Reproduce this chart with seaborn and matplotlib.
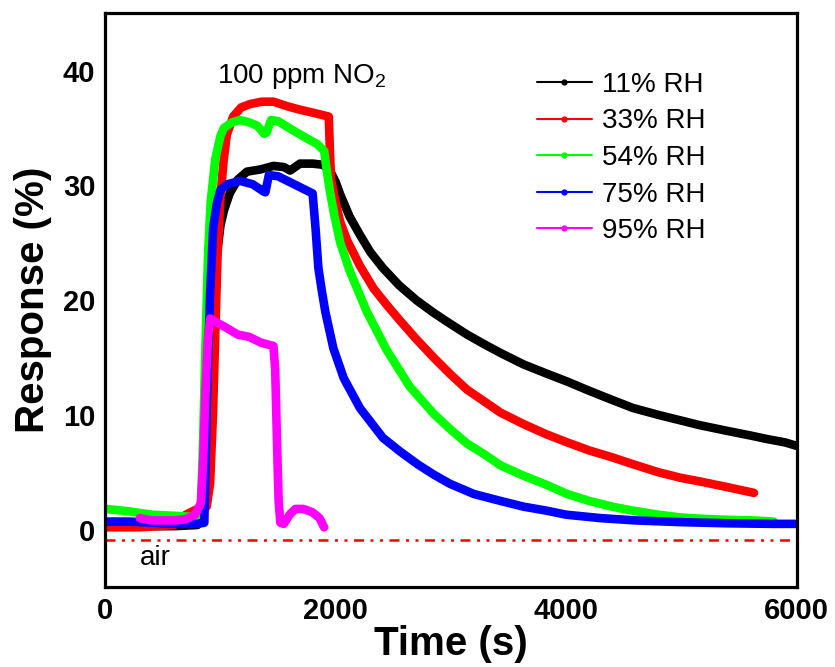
import numpy as np
import pandas as pd
import matplotlib
matplotlib.use("Agg")
import matplotlib.pyplot as plt
import seaborn as sns
from matplotlib.lines import Line2D
from matplotlib.ticker import MultipleLocator

# values
labels = ["11% RH", "33% RH", "54% RH", "75% RH", "95% RH"]
colors = ["#000000", "#ff0000", "#00ff00", "#0000ff", "#ff00ff"]

t_11 = [0, 200, 400, 600, 800, 840, 860, 880, 910, 940, 970, 1000, 1030, 1080, 1150,
        1230, 1350, 1460, 1550, 1605, 1690, 1800, 1890, 1950, 2000, 2040, 2120, 2210,
        2300, 2410, 2550, 2700, 2850, 2970, 3140, 3300, 3430, 3630, 3830, 4010, 4200,
        4400, 4580, 4800, 5000, 5160, 5400, 5600, 5740, 5900, 6000]
r_11 = [0.3, 0.3, 0.3, 0.3, 0.4, 2.0, 5.5, 9.5, 17.5, 21.5, 24.0, 26.5, 27.8, 29.3, 30.5,
        31.2, 31.4, 31.7, 31.6, 31.3, 31.9, 31.9, 31.8, 31.3, 30.3, 29.2, 27.3, 25.7,
        24.2, 22.8, 21.3, 20.0, 18.9, 18.1, 17.0, 16.1, 15.4, 14.4, 13.6, 12.9, 12.1,
        11.3, 10.6, 10.0, 9.5, 9.1, 8.6, 8.2, 7.9, 7.6, 7.3]

t_33 = [0, 300, 600, 700, 800, 880, 910, 935, 955, 975, 1000, 1026, 1055, 1110, 1180,
        1260, 1360, 1460, 1580, 1690, 1820, 1940, 1950, 1960, 2000, 2040, 2100, 2210,
        2330, 2450, 2560, 2700, 2850, 3000, 3140, 3300, 3430, 3630, 3830, 4010, 4200,
        4400, 4580, 4800, 5000, 5160, 5400, 5630]
r_33 = [0.2, 0.2, 0.4, 1.3, 1.8, 2.0, 4.0, 10.0, 17.0, 24.0, 29.0, 32.0, 34.4, 36.0, 36.8,
        37.1, 37.3, 37.3, 36.9, 36.6, 36.3, 36.0, 33.0, 30.5, 28.5, 26.8, 25.2, 23.0,
        21.0, 19.5, 18.2, 16.6, 15.0, 13.5, 12.2, 11.1, 10.2, 9.2, 8.3, 7.6, 6.9,
        6.3, 5.7, 5.0, 4.5, 4.2, 3.7, 3.2]

t_54 = [0, 200, 400, 600, 780, 830, 850, 870, 893, 915, 955, 1000, 1030, 1100, 1170,
        1250, 1320, 1380, 1400, 1440, 1500, 1630, 1750, 1840, 1900, 1920, 1950, 1990,
        2040, 2120, 2270, 2440, 2640, 2850, 3000, 3140, 3300, 3430, 3630, 3830, 4010,
        4200, 4400, 4580, 4800, 5000, 5160, 5400, 5620, 5800]
r_54 = [1.8, 1.6, 1.3, 1.2, 1.1, 1.5, 8.0, 16.0, 24.0, 28.5, 32.3, 34.3, 35.0, 35.5, 35.7,
        35.5, 35.2, 34.5, 34.6, 35.7, 35.6, 34.8, 34.1, 33.6, 33.0, 31.5, 29.5, 27.3,
        25.0, 22.6, 19.0, 15.7, 12.5, 10.1, 8.7, 7.5, 6.5, 5.6, 4.7, 3.9, 3.1,
        2.5, 2.0, 1.65, 1.3, 1.05, 0.95, 0.85, 0.8, 0.7]

t_75 = [0, 200, 400, 600, 800, 860, 884, 910, 937, 970, 1000, 1060, 1170, 1280, 1370,
        1390, 1420, 1500, 1600, 1700, 1800, 1815, 1825, 1850, 1880, 1910, 1980, 2070,
        2210, 2410, 2560, 2710, 2850, 2990, 3200, 3430, 3630, 3830, 4000, 4300, 4600,
        5000, 5400, 5800, 6000]
r_75 = [0.7, 0.7, 0.6, 0.5, 0.5, 0.6, 11.8, 20.5, 26.3, 28.5, 29.6, 30.1, 30.4, 30.1, 29.5,
        29.4, 30.9, 30.8, 30.3, 29.8, 29.3, 27.5, 26.3, 22.8, 20.8, 19.0, 15.8, 13.2,
        10.6, 8.0, 6.8, 5.7, 4.8, 4.0, 3.1, 2.5, 2.0, 1.65, 1.3, 1.0, 0.8,
        0.65, 0.55, 0.5, 0.5]

t_95 = [300, 400, 500, 600, 700, 780, 830, 850, 870, 890, 910, 960, 1050, 1150, 1250,
        1350, 1460, 1475, 1485, 1495, 1505, 1520, 1550, 1600, 1650, 1720, 1800, 1860, 1900]
r_95 = [1.0, 0.8, 0.8, 0.8, 0.9, 1.3, 2.3, 6.0, 12.0, 16.5, 18.4, 18.1, 17.6, 17.0, 16.8,
        16.3, 16.0, 14.0, 10.0, 6.0, 2.5, 0.6, 0.5, 1.3, 1.8, 1.8, 1.5, 1.0, 0.2]

air_level = -0.95

series = [(t_11, r_11), (t_33, r_33), (t_54, r_54), (t_75, r_75), (t_95, r_95)]
frames = []
for lab, (t, r) in zip(labels, series):
    frames.append(pd.DataFrame({"Time": t, "Response": r, "RH": lab}))
df = pd.concat(frames, ignore_index=True)

sns.set_style("white")
plt.rcParams["font.family"] = ["Liberation Sans", "DejaVu Sans"]
plt.rcParams["mathtext.fontset"] = "custom"
plt.rcParams["mathtext.rm"] = "Liberation Sans"
for key in ["text.color", "axes.labelcolor", "xtick.color", "ytick.color"]:
    plt.rcParams[key] = "black"

fig, ax = plt.subplots(figsize=(8.35, 6.67), dpi=100)
fig.subplots_adjust(left=0.126, right=0.954, bottom=0.120, top=0.980)

sns.lineplot(data=df, x="Time", y="Response", hue="RH", hue_order=labels,
             palette=dict(zip(labels, colors)), estimator=None, sort=False,
             linewidth=6.2, legend=False, ax=ax)

# baseline in air
ax.plot([0, 6000], [air_level, air_level], color="#ff0000", lw=1.8,
        linestyle=(0, (4, 2.6, 1.2, 2.6, 1.2, 2.6)))

ax.set_xlim(0, 6000)
ax.set_ylim(-5, 45)
ax.set_xticks([0, 2000, 4000, 6000])
ax.set_yticks([0, 10, 20, 30, 40])
ax.xaxis.set_minor_locator(MultipleLocator(1000))
ax.yaxis.set_minor_locator(MultipleLocator(5))
ax.tick_params(which="major", direction="in", length=7, width=2, labelsize=21, pad=7,
               colors="black")
ax.tick_params(which="minor", direction="in", length=3.5, width=1.8, colors="black")
for lbl in ax.get_xticklabels() + ax.get_yticklabels():
    lbl.set_fontweight("bold")
for sp in ax.spines.values():
    sp.set_linewidth(2.3)
    sp.set_color("black")

ax.set_xlabel("Time (s)", fontsize=29, fontweight="bold", labelpad=0, color="black")
ax.set_ylabel("Response (%)", fontsize=29, fontweight="bold", labelpad=8, color="black")

ax.text(971, 38.9, "100 ppm NO$_2$", fontsize=20, ha="left", va="baseline", color="black")
ax.text(304, -3.1, "air", fontsize=20, ha="left", va="baseline", color="black")

handles = [Line2D([0], [0], color=c, lw=1.5, marker="o", markersize=3.5) for c in colors]
leg = ax.legend(handles, labels, loc="upper left", bbox_to_anchor=(0.624, 0.898),
                frameon=False, fontsize=20, handlelength=2.0, handletextpad=0.35,
                labelspacing=0.38, borderpad=0, borderaxespad=0)
for txt in leg.get_texts():
    txt.set_color("black")

fig.savefig("out.png", dpi=100)
